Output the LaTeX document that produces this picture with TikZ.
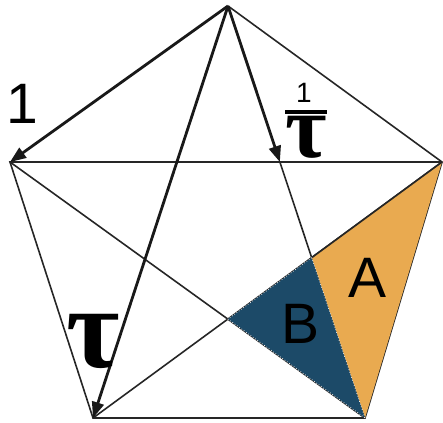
\documentclass[tikz,border=0pt]{standalone}
\usepackage{fontspec}
\setmainfont{Liberation Sans}
\newfontfamily\taufont{Liberation Serif}
\usetikzlibrary{arrows.meta,calc}
\definecolor{orangeA}{RGB}{233,170,80}
\definecolor{tealB}{RGB}{28,74,104}
\begin{document}
\begin{tikzpicture}[x=1pt,y=-1pt,
  thinline/.style={line width=1.6pt, draw=black!85},
  vec/.style={line width=2.8pt, draw=black!90, -{Triangle[length=16pt,width=12pt]}},
  lab/.style={font=\fontsize{57}{60}\selectfont, inner sep=0pt},
  dotedge/.style={draw=white!85!gray, line width=0.8pt, dotted}]
\useasboundingbox (0,0) rectangle (443,422);
\coordinate (T) at (228,6);
\coordinate (L) at (10,162);
\coordinate (R) at (442,162);
\coordinate (BL) at (93,418);
\coordinate (BR) at (365,418);
\coordinate (P) at (intersection of T--BR and L--R);
\coordinate (X) at (intersection of T--BR and R--BL);
\coordinate (Q) at (intersection of L--BR and R--BL);
% thin lines
\draw[thinline] (T) -- (R) -- (BR) -- (BL) -- (L) -- (R);
\draw[thinline] (L) -- (BR);
\draw[thinline] (R) -- (BL);
\draw[thinline] (P) -- (BR);
% coloured triangles
\fill[orangeA] (R) -- (BR) -- (X) -- cycle;
\fill[tealB] (X) -- (BR) -- (Q) -- cycle;
\draw[thinline] (R) -- (X);
\draw[dotedge] (X) -- (BR) (X) -- (Q) (Q) -- (BR);
% arrows
\draw[vec] (T) -- (L);
\draw[vec] (T) -- (BL);
\draw[vec] (T) -- (P);
% labels
\node[lab] (one) at (22,104) {1};
\node[inner sep=0pt, font=\taufont\bfseries\fontsize{116}{116}\selectfont] (tau) at (93,341) {τ};
\node[font=\fontsize{28}{28}\selectfont, inner sep=0pt] (num) at (304,93) {1};
\coordinate (barL) at (285,112.5);
\coordinate (barR) at (327,112.5);
\draw[line width=4pt] (barL) -- (barR);
\node[inner sep=0pt, font=\taufont\bfseries\fontsize{90}{90}\selectfont] (den) at (306,137) {τ};
\node[lab] (A) at (368,278) {A};
\node[lab] (B) at (301,324) {B};
\end{tikzpicture}
\end{document}
